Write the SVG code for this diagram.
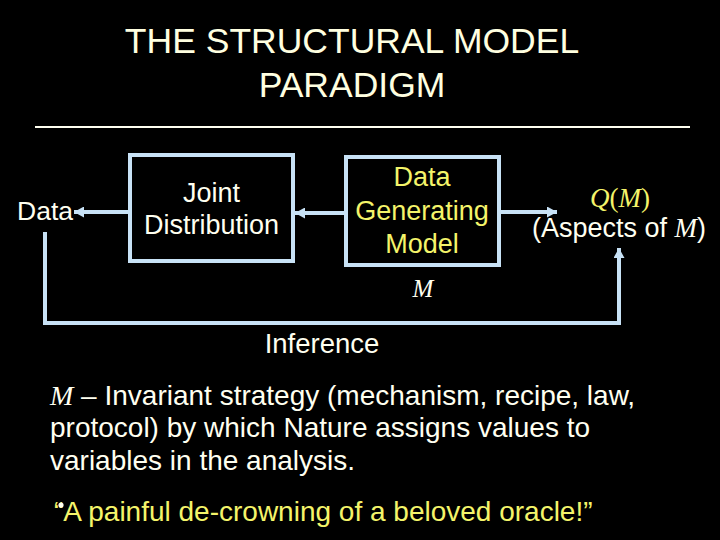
<svg xmlns="http://www.w3.org/2000/svg" width="720" height="540" viewBox="0 0 720 540">
<defs>
<style>
.t{font-family:"Liberation Sans",Arial,sans-serif;}
.m{font-family:"Liberation Serif","Times New Roman",serif;font-style:italic;}
.w{fill:#fffff0;}
.y{fill:#f4f46a;}
.box{fill:none;stroke:#c8e2f6;stroke-width:4;}
.c{fill:none;stroke:#c8e2f6;stroke-width:4;}
</style>
<marker id="ah" markerUnits="userSpaceOnUse" markerWidth="10" markerHeight="11" refX="10" refY="5.5" orient="auto">
<path d="M0,0 L10,5.5 L0,11 z" fill="#c8e2f6"/>
</marker>
</defs>
<rect x="0" y="0" width="720" height="540" fill="#000"/>
<g id="title">
<text class="t" x="352" y="53" font-size="35.5" text-anchor="middle" fill="#ffffe0">THE STRUCTURAL MODEL</text>
<text class="t" x="352" y="97" font-size="35.5" text-anchor="middle" fill="#ffffe0">PARADIGM</text>
<line x1="35" y1="127" x2="690" y2="127" stroke="#fffff0" stroke-width="2"/>
</g>
<g id="data">
<text class="t w" x="45" y="220" font-size="26.5" text-anchor="middle">Data</text>
</g>
<g id="joint">
<rect class="box" x="130" y="155" width="163" height="106"/>
<text class="t w" x="211.5" y="202" font-size="27" text-anchor="middle">Joint</text>
<text class="t w" x="211.5" y="234" font-size="27" text-anchor="middle">Distribution</text>
</g>
<g id="dgm">
<rect class="box" x="346" y="157" width="153" height="108"/>
<text class="t y" x="422" y="186" font-size="27" text-anchor="middle">Data</text>
<text class="t y" x="422" y="220" font-size="27" text-anchor="middle">Generating</text>
<text class="t y" x="422" y="253" font-size="27" text-anchor="middle">Model</text>
</g>
<g id="qm">
<text x="620" y="207" font-size="27" text-anchor="middle" class="y"><tspan class="m">Q</tspan><tspan font-family="Liberation Serif,serif">(</tspan><tspan class="m">M</tspan><tspan font-family="Liberation Serif,serif">)</tspan></text>
<text x="619" y="237" font-size="27" text-anchor="middle" class="w"><tspan class="t">(Aspects of </tspan><tspan class="m">M</tspan><tspan class="t">)</tspan></text>
</g>
<g id="mlabel">
<text class="m w" x="423" y="297" font-size="25" text-anchor="middle">M</text>
</g>
<g id="connectors">
<line class="c" x1="130" y1="212" x2="74" y2="212" marker-end="url(#ah)"/>
<line class="c" x1="344" y1="213" x2="295" y2="213" marker-end="url(#ah)"/>
<line class="c" x1="501" y1="212" x2="557" y2="212" marker-end="url(#ah)"/>
<polyline class="c" points="45,232 45,323 619,323 619,248" marker-end="url(#ah)"/>
</g>
<g id="inference">
<text class="t w" x="322" y="353" font-size="27.5" text-anchor="middle">Inference</text>
</g>
<g id="body">
<text x="50" y="405" font-size="28" class="w"><tspan class="m">M</tspan><tspan class="t"> – Invariant strategy (mechanism, recipe, law,</tspan></text>
<text class="t w" x="50" y="437" font-size="28">protocol) by which Nature assigns values to</text>
<text class="t w" x="50" y="470" font-size="28">variables in the analysis.</text>
<text class="t y" x="54" y="521" font-size="28">“A painful de-crowning of a beloved oracle!”</text>
<circle cx="61" cy="505" r="2.6" fill="#fffff0"/>
</g>
</svg>
